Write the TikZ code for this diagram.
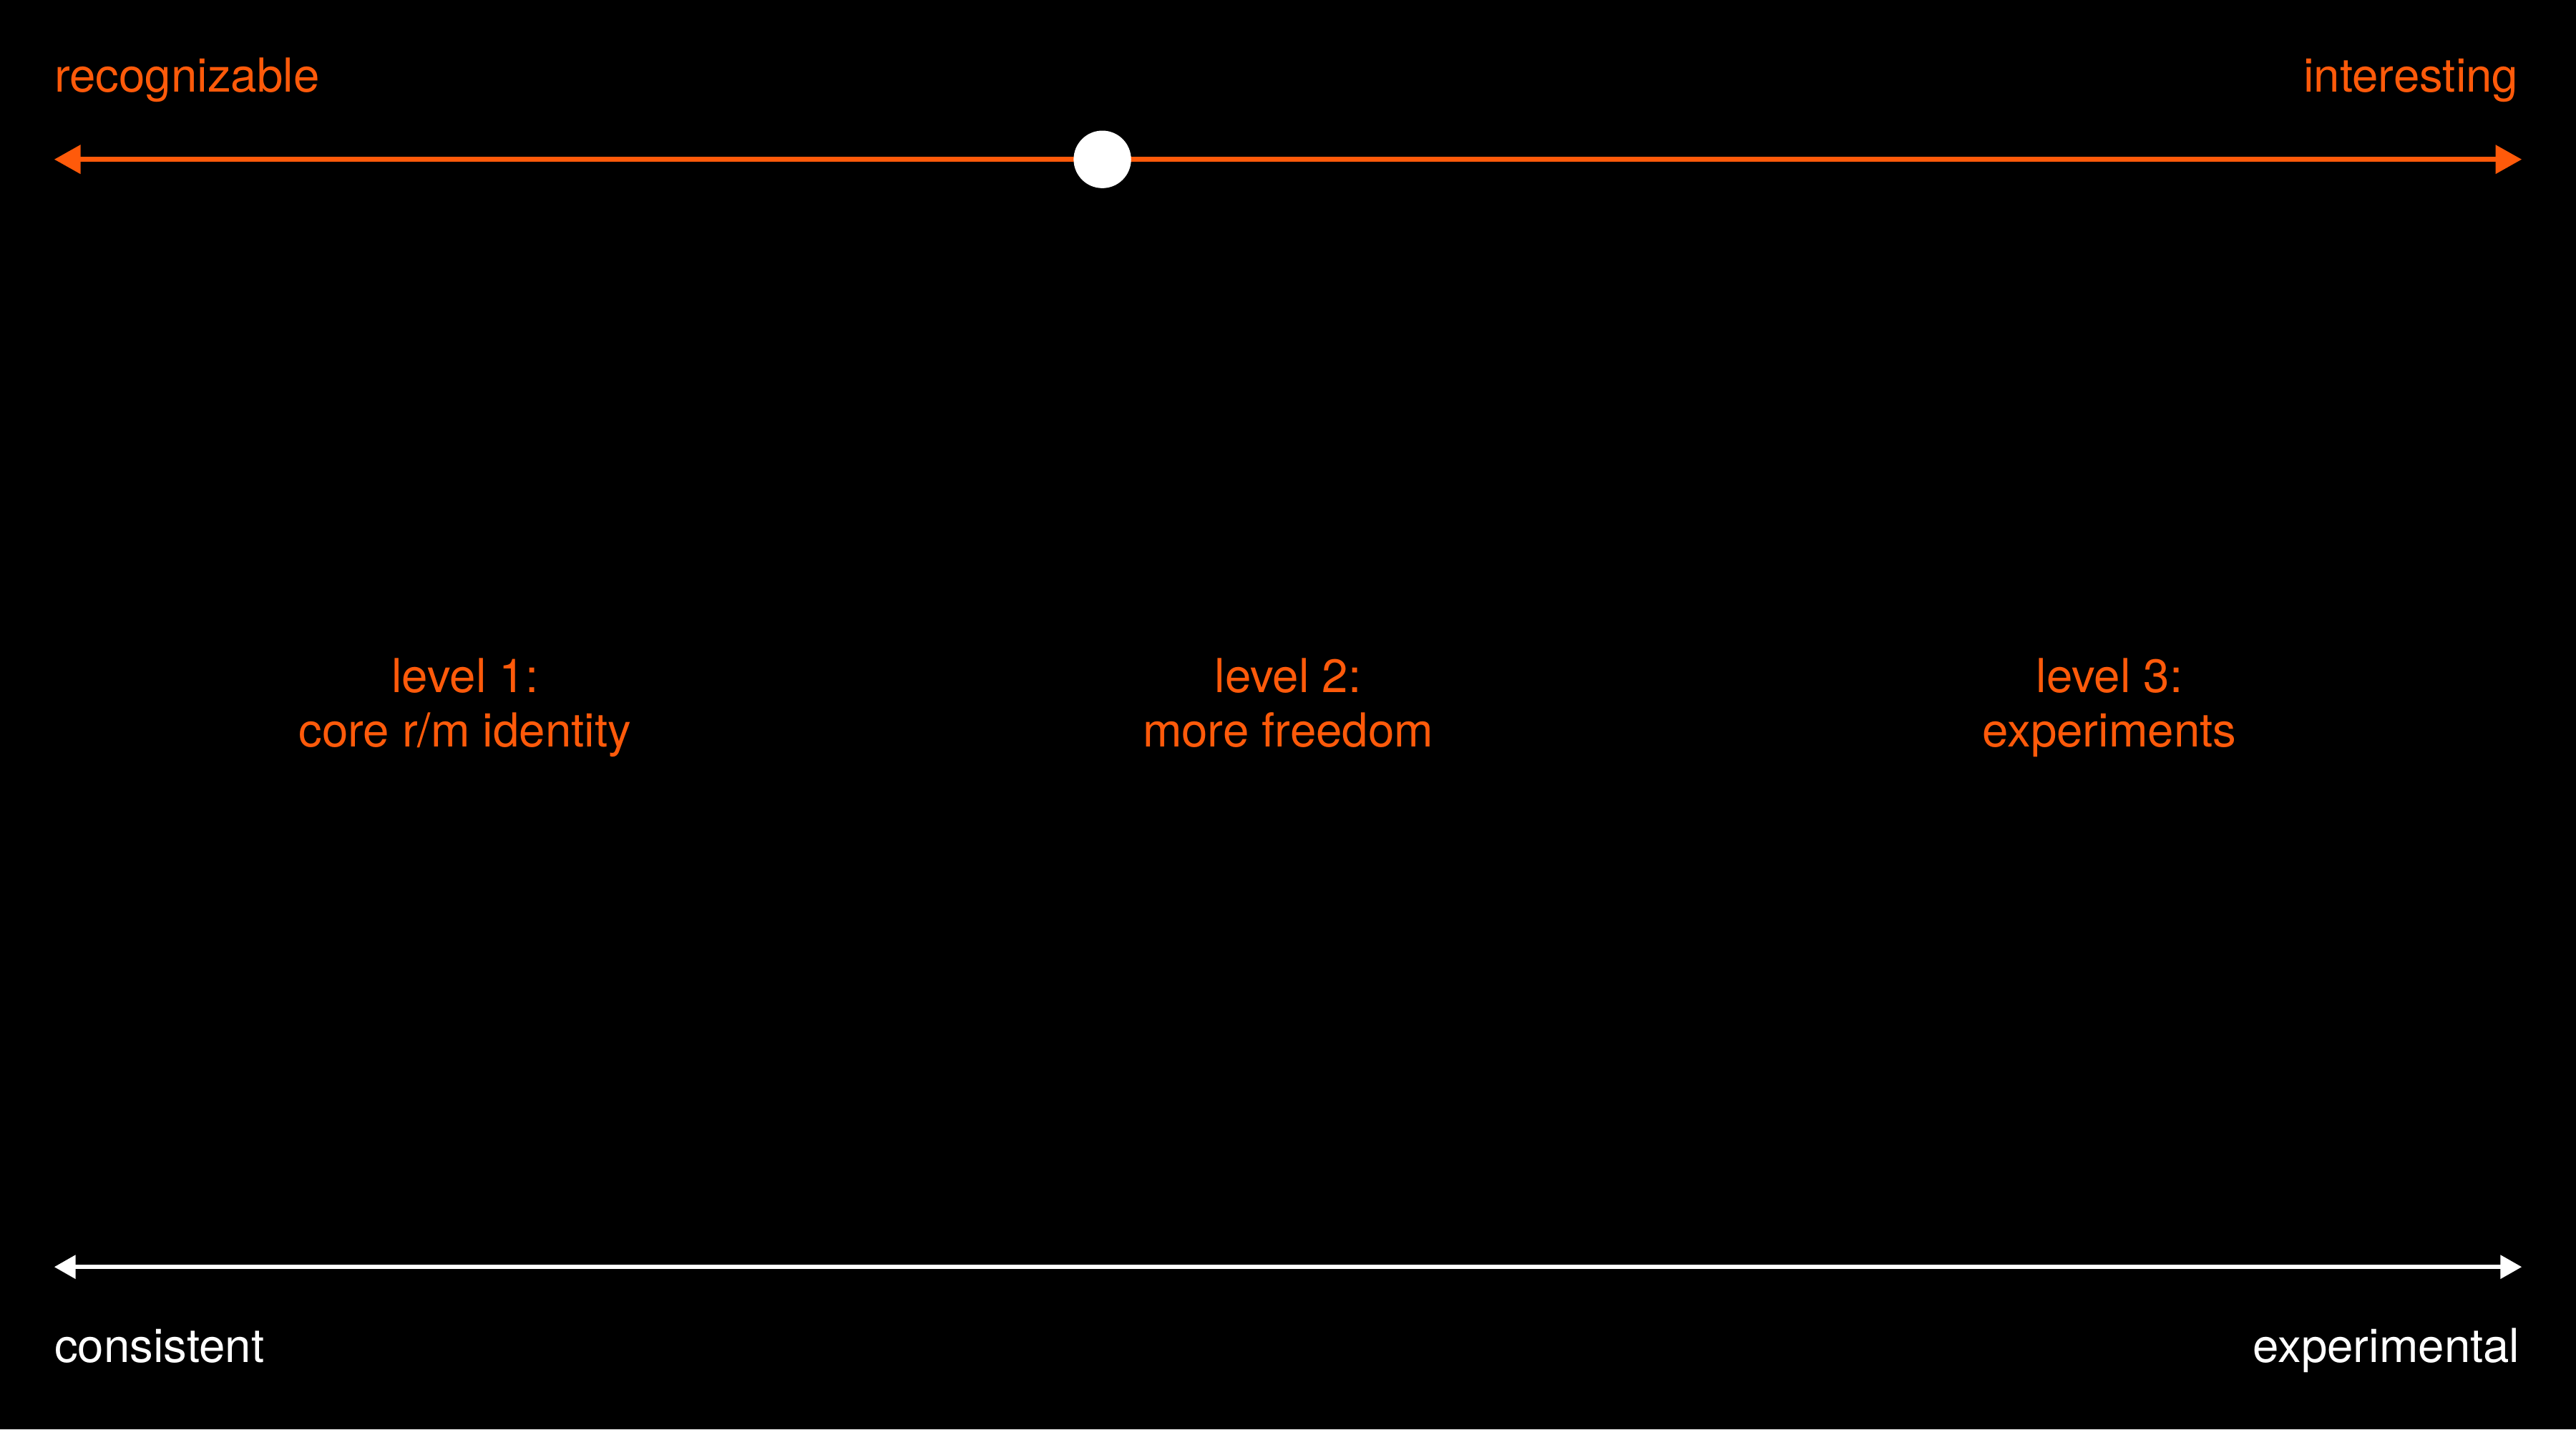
\documentclass[tikz,border=0pt]{standalone}
\usepackage{fontspec}
\setmainfont{TeX Gyre Heros}
\usetikzlibrary{arrows.meta}
\definecolor{org}{HTML}{FF5A0A}
\newcommand{\mystr}{\vphantom{Ây}}
\begin{document}
\begin{tikzpicture}[x=1pt,y=-1pt,
  lab/.style={font=\fontsize{28.5}{27}\selectfont, inner sep=0pt},
  lvl/.style={lab, text=org, align=center}]
\fill[black] (0,0) rectangle (1568,870);
\useasboundingbox (0,0) rectangle (1568,870);
\coordinate (tl) at (33,97); \coordinate (tr) at (1535,97);
\coordinate (bl) at (33,771); \coordinate (br) at (1535,771);
\draw[org, line width=3, {Triangle[length=16,width=17]}-{Triangle[length=16,width=17]}] (tl) -- (tr);
\node[circle, fill=white, minimum size=35, inner sep=0] (dot) at (671,97) {};
\draw[white, line width=2.5, {Triangle[length=13,width=14]}-{Triangle[length=13,width=14]}] (bl) -- (br);
\node[lab, text=org, anchor=base west] (rec) at (33,56) {recognizable};
\node[lab, text=org, anchor=base east] (int) at (1533,56) {interesting};
\node[lab, text=white, anchor=base west] (con) at (33,829) {consistent};
\node[lab, text=white, anchor=base east] (exp) at (1534,829) {experimental};
\node[lvl] (l1) at (283,428) {\mystr level 1:\\\mystr core r/m identity};
\node[lvl] (l2) at (784,428) {\mystr level 2:\\\mystr more freedom};
\node[lvl] (l3) at (1284,428) {\mystr level 3:\\\mystr experiments};
\end{tikzpicture}
\end{document}
